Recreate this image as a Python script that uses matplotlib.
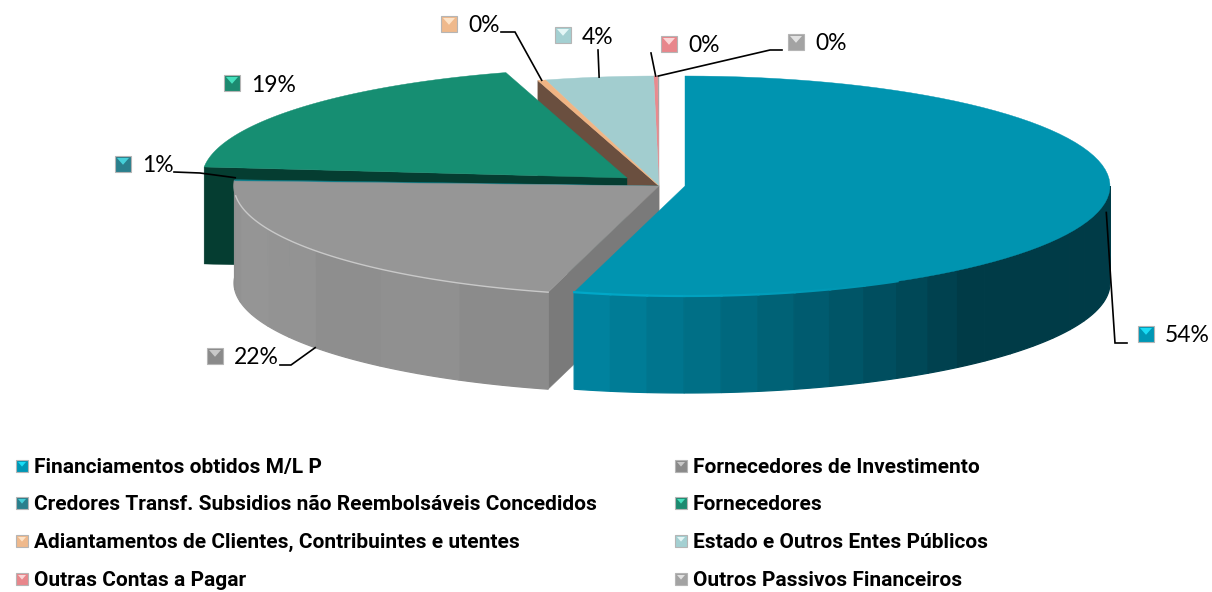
import numpy as np
import matplotlib
matplotlib.use("Agg")
import matplotlib.pyplot as plt
from matplotlib.colors import to_rgb

# ============================
# Data
# ============================

categories = [
    "Financiamentos obtidos M/L P",
    "Fornecedores de Investimento",
    "Credores Transf. Subsidios não Reembolsáveis Concedidos",
    "Fornecedores",
    "Adiantamentos de Clientes, Contribuintes e utentes",
    "Estado e Outros Entes Públicos",
    "Outras Contas a Pagar",
    "Outros Passivos Financeiros",
]
values = [54.2, 21.6, 0.8, 18.8, 0.3, 4.1, 0.15, 0.05]

top_colors = ["#0094b0", "#969696", "#0f7f8c", "#168e72", "#f0b483", "#a2cdcf", "#e98a8e", "#a6a6a6"]
marker_colors = ["#0097b5", "#8a8a8a", "#2a7f8c", "#1c8a70", "#efb98c", "#a4d0d2", "#e8868b", "#a3a3a3"]
marker_lights = ["#19dcf5", "#c8c8c8", "#45cfd8", "#45e0bd", "#fde3c8", "#e4f6f6", "#fbd5d6", "#e2e2e2"]

# legend slots, read down the left column then the right one
legend_order = [0, 2, 4, 6, 1, 3, 5, 7]

# ============================
# Layout
# ============================

CX, CY = 659, 186
RX, RY = 425, 110
DEPTH = 97
MAIN_CX = 685
GREEN_CX, GREEN_CY = 627, 178


def arc(cx, cy, a0, a1, n=80):
    # angles run clockwise from the top of the pie
    a = np.radians(np.linspace(a0, a1, n))
    return cx + RX * np.sin(a), cy - RY * np.cos(a)


def top_face(cx, cy, a0, a1, color, z):
    x, y = arc(cx, cy, a0, a1)
    ax.fill(np.r_[cx, x], np.r_[cy, y], color=color, lw=0.3, zorder=z)


def side_wall(cx, cy, a0, a1, color, z):
    x, y = arc(cx, cy, a0, a1, 12)
    ax.fill(np.r_[x, x[::-1]], np.r_[y, y[::-1] + DEPTH], color=color, lw=0.9, zorder=z)


def cut_face(cx, cy, a, color, z):
    x, y = arc(cx, cy, a, a, 1)
    ax.fill([cx, x[0], x[0], cx], [cy, y[0], y[0] + DEPTH, cy + DEPTH], color=color, lw=0.3, zorder=z)


def mix(c0, c1, t):
    c0, c1 = np.array(to_rgb(c0)), np.array(to_rgb(c1))
    return tuple(c0 + (c1 - c0) * t)


def square(x, y, size, i):
    # small bevelled legend key
    ax.fill([x, x + size, x + size, x], [y, y, y + size, y + size],
            color=marker_colors[i], ec="#b5b5b5", lw=0.8, zorder=20)
    ax.fill([x + 2, x + size - 2, x + size / 2],
            [y + 2, y + 2, y + size * 0.55],
            color=marker_lights[i], lw=0, zorder=21)


fig = plt.figure(figsize=(12.12, 5.92), dpi=100)
ax = fig.add_axes([0, 0, 1, 1])
ax.set_xlim(0, 1212)
ax.set_ylim(592, 0)
ax.axis("off")

# ============================
# Slices
# ============================

edges = np.r_[0, np.cumsum(values)] * 360 / sum(values)
mid = (edges[:-1] + edges[1:]) / 2

# back slices first
cut_face(CX, CY, edges[4], "#6a4f3f", 1)
for i in [7, 6, 5, 4]:
    top_face(CX, CY, edges[i], edges[i + 1], top_colors[i], 2)

# Fornecedores is pulled out to the upper left
cut_face(GREEN_CX, GREEN_CY, edges[3], "#053d31", 3)
top_face(GREEN_CX, GREEN_CY, edges[3], edges[4], top_colors[3], 4)

# Fornecedores de Investimento with its shaded wall
cut_face(CX, CY, edges[1], "#7a7a7a", 5)
gray_steps = np.linspace(edges[1], edges[2], 13)
gray_tones = ["#8b8b8b", "#8b8b8b", "#909090", "#909090", "#8e8e8e", "#8e8e8e", "#939393",
              "#939393", "#959595", "#959595", "#929292", "#8f8f8f"]
for a0, a1, tone in zip(gray_steps[:-1], gray_steps[1:], gray_tones):
    side_wall(CX, CY, a0, a1, tone, 5)
top_face(CX, CY, edges[2] - 0.6, edges[2] + 0.4, top_colors[2], 5.5)
top_face(CX, CY, edges[1], edges[2] - 0.3, top_colors[1], 6)
rx, ry = arc(CX, CY, edges[1], edges[2] - 8)
ax.plot(rx, ry, color="#c9c9c9", lw=1.0, zorder=6.5)

# Financiamentos, the wall gets darker towards the right
main_steps = np.arange(edges[1], 89, -5.0)
main_steps = np.r_[main_steps, 90]
for k, (a0, a1) in enumerate(zip(main_steps[:-1], main_steps[1:])):
    t = min(k / 11, 1)
    side_wall(MAIN_CX, CY, a0, a1, mix("#00829e", "#003b47", t), 7 + k * 0.001)
top_face(MAIN_CX, CY, edges[0], edges[1], top_colors[0], 8)
# bright rim fades out along the front edge
rim_steps = np.linspace(edges[1], 150, 10)
for k, (a0, a1) in enumerate(zip(rim_steps[:-1], rim_steps[1:])):
    rx, ry = arc(MAIN_CX, CY, a0, a1, 10)
    ax.plot(rx, ry, color=mix("#00a8c8", top_colors[0], k / 8), lw=1.6, zorder=8.5)

# ============================
# Data labels and leader lines
# ============================

label_font = {"family": "Lato", "size": 16.5, "color": "black", "va": "center", "ha": "left", "zorder": 22}

# x, y of the key square for each slice
label_pos = [(1138, 326), (207, 348), (115, 156), (224, 75), (441, 16), (555, 27), (661, 36), (788, 34)]
# waypoints of the leader, from the label towards the slice
leaders = [
    [(1127, 343), (1115, 343)],
    [(280, 365), (291, 365)],
    [(174, 172), (200, 173)],
    [],
    [(501, 32), (515, 32)],
    [(598, 50)],
    [(651, 53)],
    [(782, 50), (770, 50)],
]
# slices whose leader ends on the lower rim of the wall
wall_drop = [12, DEPTH, 0, 0, 0, 0, 0, 0]
centres = [MAIN_CX, CX, CX, CX, CX, CX, CX, CX]

for i, v in enumerate(values):
    x, y = label_pos[i]
    square(x, y, 16, i)
    ax.text(x + 27, y + 10, f"{v:.0f}%", **label_font)
    if leaders[i]:
        ex, ey = arc(centres[i], CY, mid[i], mid[i], 1)
        px = [p[0] for p in leaders[i]] + [ex[0]]
        py = [p[1] for p in leaders[i]] + [ey[0] + wall_drop[i]]
        ax.plot(px, py, color="black", lw=1.2, zorder=15, solid_joinstyle="miter")

# ============================
# Legend
# ============================

legend_x = [16, 675]
legend_y = [466, 503, 541, 579]

for slot, i in enumerate(legend_order):
    col = slot // 4
    row = slot % 4
    square(legend_x[col], legend_y[row] - 6, 12, i)
    ax.text(legend_x[col] + 18, legend_y[row] + 7, categories[i],
            family="Roboto", weight="bold",
            size=15, color="black", va="baseline", ha="left")

fig.savefig("out.png", dpi=100, facecolor="white")
